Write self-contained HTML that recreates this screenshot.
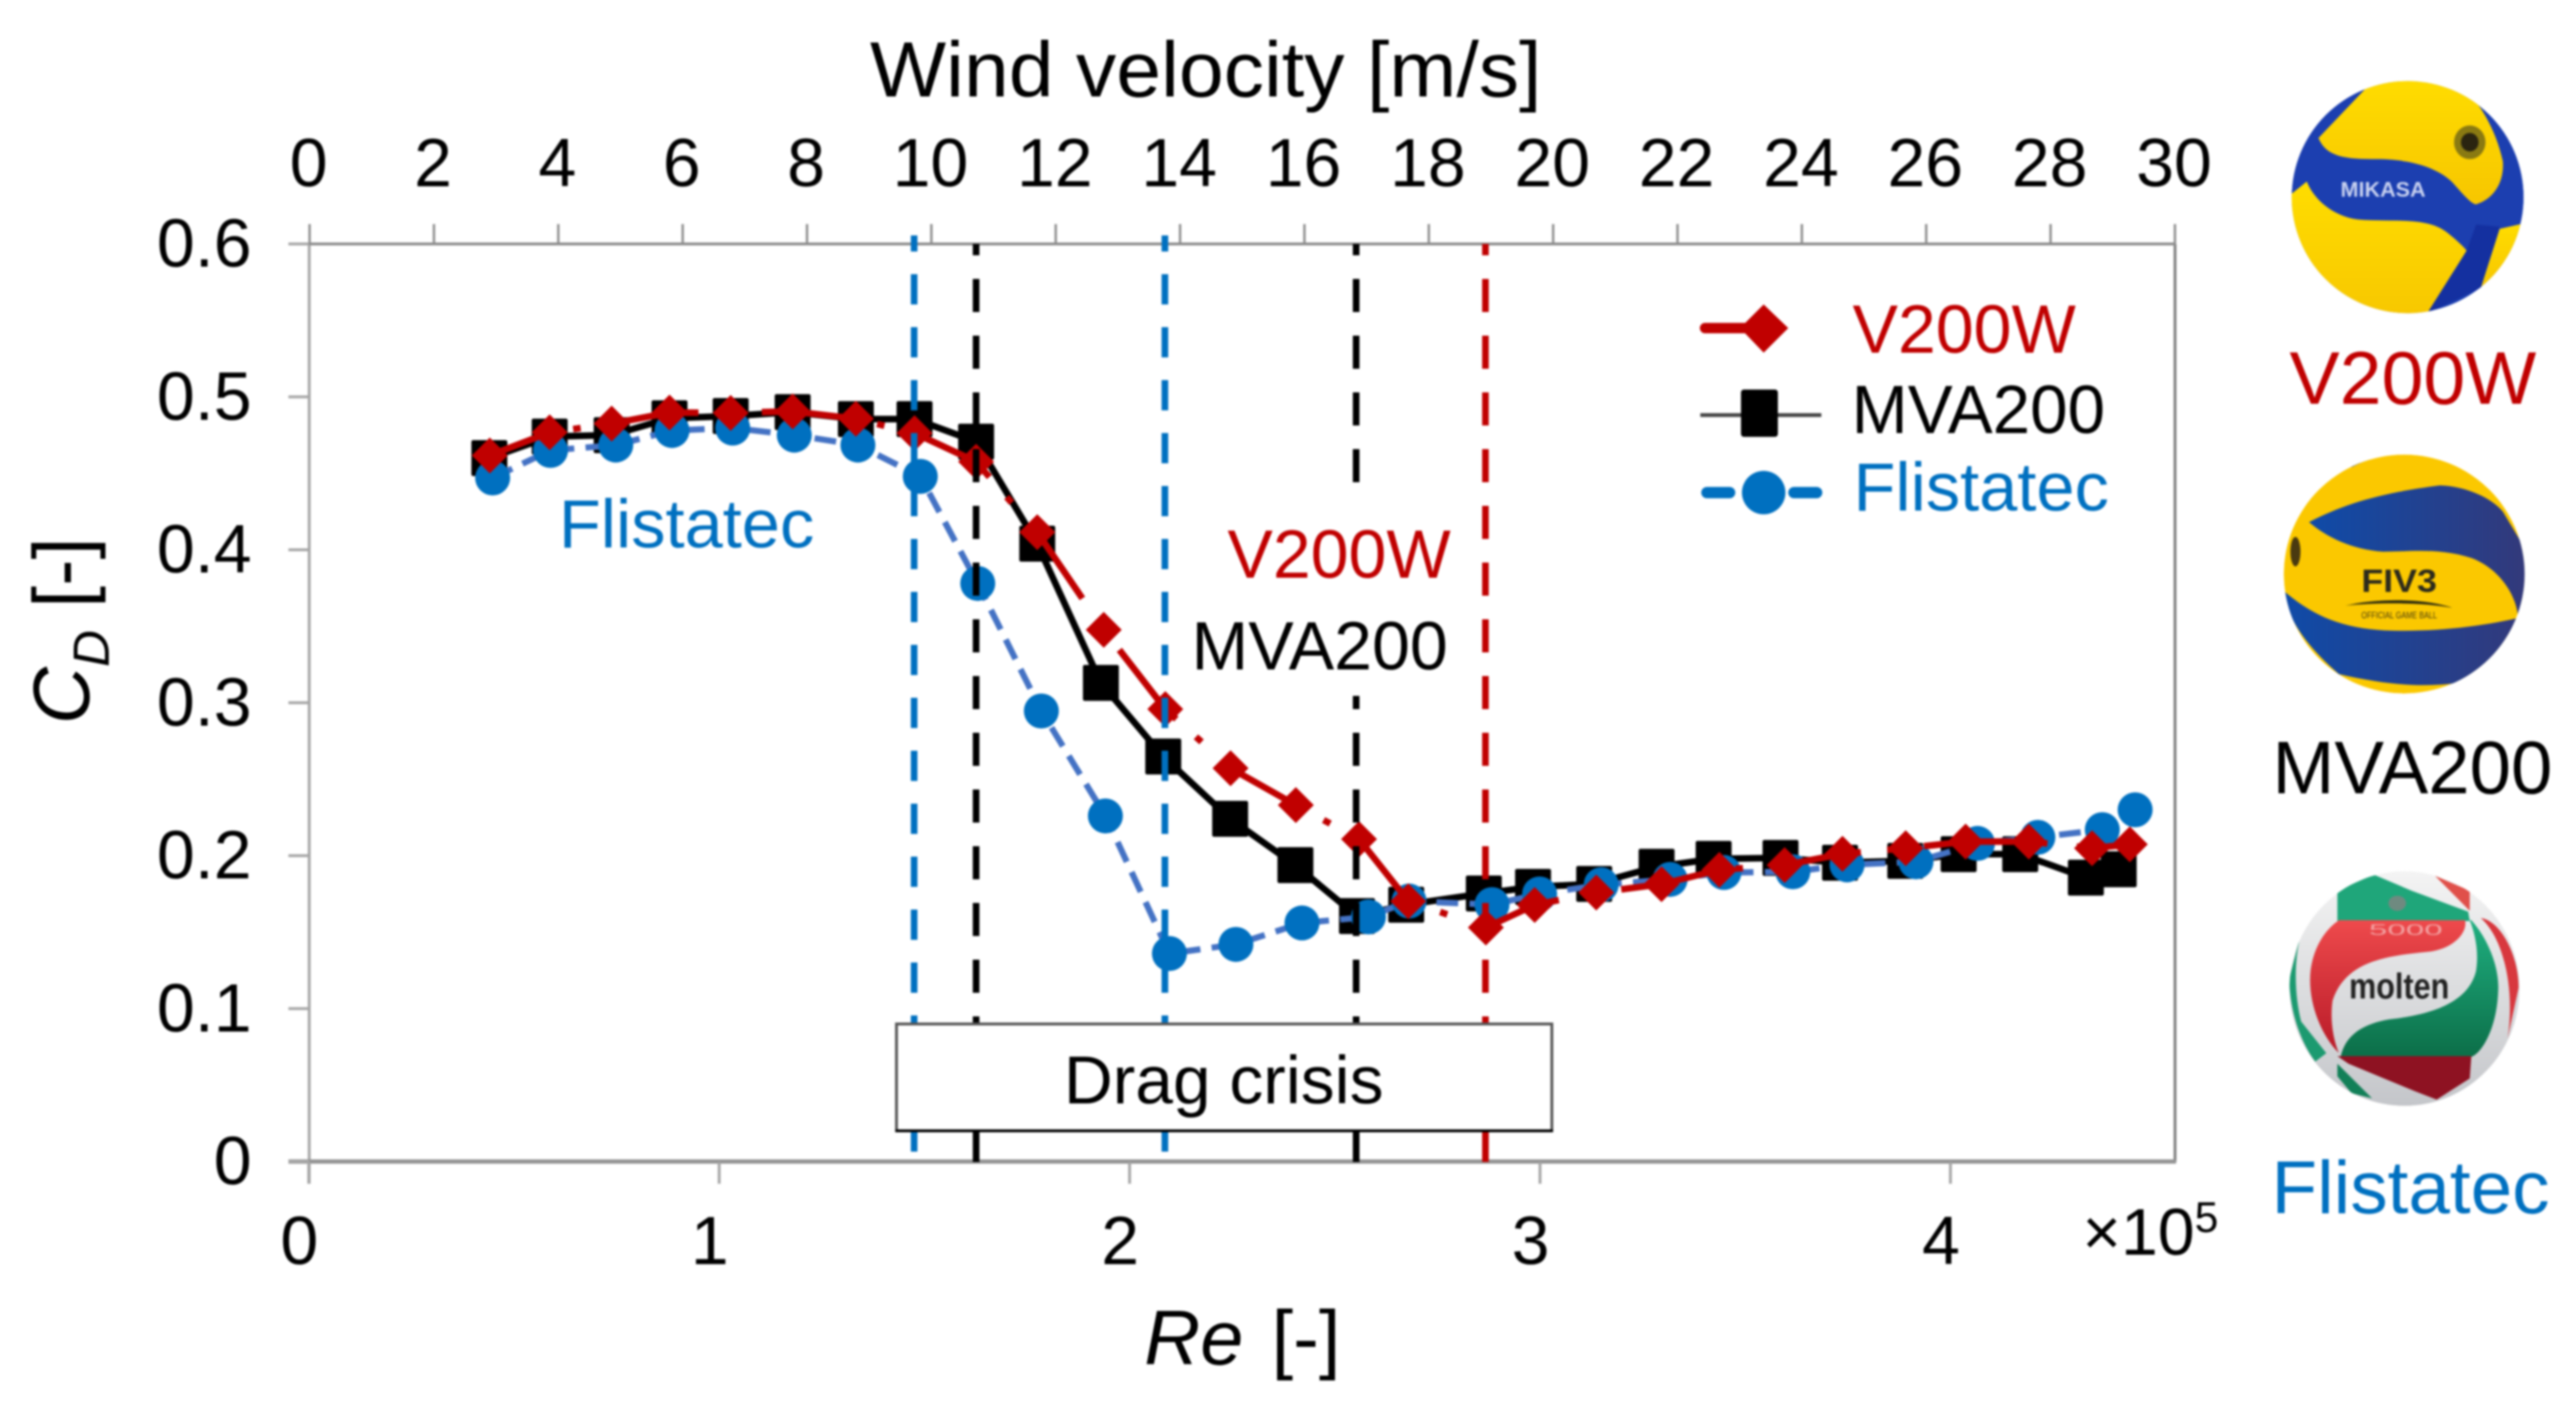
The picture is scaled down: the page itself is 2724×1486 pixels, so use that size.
<!DOCTYPE html>
<html lang="en">
<head>
<meta charset="utf-8">
<title>Drag coefficient vs Reynolds number for three volleyballs</title>
<style>
html,body{margin:0;padding:0;background:#fff;width:2724px;height:1486px;overflow:hidden}
svg{display:block;filter:blur(1px)}
text{font-family:"Liberation Sans",Arial,sans-serif}
</style>
</head>
<body>
<svg id="chart" xmlns="http://www.w3.org/2000/svg" width="2724" height="1486" viewBox="0 0 2724 1486">
  <defs>
    <clipPath id="clip-b1"><ellipse cx="498" cy="355" rx="368" ry="275"/></clipPath>
    <clipPath id="clip-b2"><ellipse cx="487" cy="1248" rx="382" ry="283"/></clipPath>
    <clipPath id="clip-b3"><ellipse cx="488" cy="662" rx="365" ry="278"/></clipPath>
    <linearGradient id="g-yellow" x1="0" y1="0" x2="0" y2="1"><stop offset="0" stop-color="#FFDD00"/><stop offset="1" stop-color="#F7C600"/></linearGradient>
    <linearGradient id="g-blue2" x1="0" y1="0" x2="1" y2="0"><stop offset="0" stop-color="#0F4BA8"/><stop offset="1" stop-color="#33397A"/></linearGradient>
    <linearGradient id="g-white" x1="0" y1="0" x2="0" y2="1"><stop offset="0" stop-color="#F4F4F4"/><stop offset="1" stop-color="#C4C6CA"/></linearGradient>
    <linearGradient id="g-green" x1="0" y1="0" x2="0" y2="1"><stop offset="0" stop-color="#1FAF80"/><stop offset="1" stop-color="#0C6E48"/></linearGradient>
    <linearGradient id="g-red" x1="0" y1="0" x2="0" y2="1"><stop offset="0" stop-color="#EE4A4C"/><stop offset="1" stop-color="#B81A28"/></linearGradient>
  </defs>

  <g id="axes"></g>
  <g id="series"></g>
  <g id="vlines"></g>

  <rect x="1265" y="535" width="275" height="201" fill="#fff"/>
  <text x="1298" y="611" font-size="72" fill="#C00000" textLength="236" lengthAdjust="spacingAndGlyphs">V200W</text>
  <text x="1260" y="708" font-size="72" fill="#000" textLength="271" lengthAdjust="spacingAndGlyphs">MVA200</text>
  <text x="591" y="579" font-size="72" fill="#0070C0" textLength="270" lengthAdjust="spacingAndGlyphs">Flistatec</text>

  <g>
    <rect x="948" y="1083" width="693" height="113" fill="#fff" stroke="#555" stroke-width="3"/>
    <line x1="947" y1="1196" x2="1642" y2="1196" stroke="#000" stroke-width="3"/>
    <text x="1294" y="1167" font-size="71" text-anchor="middle" fill="#000" textLength="338" lengthAdjust="spacingAndGlyphs">Drag crisis</text>
  </g>

  <g>
    <g>
      <line x1="1803" y1="347" x2="1865" y2="347" stroke="#C00000" stroke-width="11" stroke-linecap="round"/>
      <polygon points="1865,322 1891,347 1865,373 1840,347" fill="#C00000"/>
      <text x="1959" y="373" font-size="72" fill="#C00000" textLength="236" lengthAdjust="spacingAndGlyphs">V200W</text>
    </g>
    <g>
      <line x1="1798" y1="439" x2="1926" y2="439" stroke="#444" stroke-width="4"/>
      <rect x="1841" y="412" width="39" height="50" rx="3" fill="#000"/>
      <text x="1958" y="458" font-size="72" fill="#000" textLength="268" lengthAdjust="spacingAndGlyphs">MVA200</text>
    </g>
    <g>
      <line x1="1805" y1="521" x2="1829" y2="521" stroke="#0070C0" stroke-width="12" stroke-linecap="round"/>
      <line x1="1897" y1="521" x2="1921" y2="521" stroke="#0070C0" stroke-width="12" stroke-linecap="round"/>
      <ellipse cx="1865" cy="521" rx="23" ry="23" fill="#0070C0"/>
      <text x="1960" y="540" font-size="72" fill="#0070C0" textLength="270" lengthAdjust="spacingAndGlyphs">Flistatec</text>
    </g>
  </g>

  <text x="920" y="102" font-size="83" fill="#000" textLength="710" lengthAdjust="spacingAndGlyphs">Wind velocity [m/s]</text>
  <text x="1210" y="1443" font-size="82" fill="#000"><tspan font-style="italic">Re</tspan><tspan dx="7"> [-]</tspan></text>
  <text transform="translate(94,766) rotate(-90)" font-size="84" fill="#000"><tspan font-style="italic">C</tspan><tspan font-style="italic" font-size="54" dy="21">D</tspan><tspan dy="-21"> [-]</tspan></text>
  <text x="2202" y="1327" font-size="70" fill="#000">×10<tspan font-size="45" dy="-24">5</tspan></text>

  <!-- V200W ball -->
  <g transform="translate(2380,50) scale(0.33333,0.44643)">
    <g clip-path="url(#clip-b1)">
      <ellipse cx="498" cy="355" rx="368" ry="275" fill="#1C3FB0"/>
      <path d="M400,70 L215,215 C240,260 300,265 400,265 C520,265 600,290 640,320 C670,345 700,372 715,372 C770,360 805,320 800,270 C785,220 760,180 730,145 C680,90 560,60 400,70Z" fill="url(#g-yellow)"/>
      <path d="M178,318 C200,360 260,400 340,408 C450,415 560,400 625,440 C650,455 680,475 685,482 L560,640 L400,660 L100,520 L125,350Z" fill="url(#g-yellow)"/>
      <path d="M790,430 L730,570 L880,470 L880,415Z" fill="url(#g-yellow)"/>
      <path d="M560,630 L685,482 L715,420 L790,425 L730,570Z" fill="#1430A0"/>
      <ellipse cx="695" cy="225" rx="50" ry="40" fill="#8A7A12"/>
      <ellipse cx="695" cy="225" rx="28" ry="22" fill="#2A2410"/>
    </g>
  </g>
  <text x="2475" y="208" font-size="22" font-weight="bold" fill="#C9D2F0" textLength="90" lengthAdjust="spacingAndGlyphs">MIKASA</text>

  <!-- MVA200 ball -->
  <g transform="translate(2380,50) scale(0.33333,0.44643)">
    <g clip-path="url(#clip-b2)">
      <ellipse cx="487" cy="1248" rx="382" ry="283" fill="#FBC800"/>
      <path d="M320,995 C370,975 420,965 470,962 L470,940 L320,960Z" fill="#5A6A9A"/>
      <path d="M185,1125 C300,1080 420,1055 600,1038 C680,1040 760,1065 800,1100 L880,1200 L880,1360 L848,1352 C845,1300 790,1235 700,1210 C600,1185 500,1195 420,1195 C320,1190 240,1160 185,1125Z" fill="url(#g-blue2)"/>
      <path d="M100,1285 C200,1350 300,1380 450,1382 C600,1385 750,1370 860,1350 L880,1350 L840,1450 C760,1490 700,1505 600,1510 C500,1515 400,1505 280,1485 C180,1420 120,1360 100,1285Z" fill="url(#g-blue2)"/>
      <ellipse cx="142" cy="1195" rx="16" ry="35" fill="#4A3A10"/>
    </g>
    <path d="M300,1323 C400,1305 550,1305 640,1328 C550,1315 400,1315 300,1323Z" fill="#2A2A10"/>
  </g>
  <text x="2497" y="626" font-size="34" font-weight="bold" fill="#2C2A1C" textLength="80" lengthAdjust="spacingAndGlyphs">FIV3</text>
  <text x="2497" y="654" font-size="10" fill="#4A3F10" textLength="80" lengthAdjust="spacingAndGlyphs">OFFICIAL GAME BALL</text>

  <!-- Flistatec ball -->
  <g transform="translate(2380,750) scale(0.33333,0.44643)">
    <g clip-path="url(#clip-b3)">
      <ellipse cx="488" cy="662" rx="365" ry="278" fill="url(#g-white)"/>
      <polygon points="275,430 390,392 510,430 690,480 695,502 275,502" fill="#1FA67A"/>
      <path d="M280,500 L680,500 C690,530 640,570 560,575 C420,585 300,600 260,690 C250,740 265,790 280,815 C220,770 180,690 190,620 C200,560 240,520 280,500Z" fill="url(#g-red)"/>
      <path d="M700,500 C760,550 790,620 785,670 C780,760 730,820 695,825 L285,825 C300,770 360,745 440,735 C560,725 690,700 715,620 C725,570 710,530 695,500Z" fill="url(#g-green)"/>
      <path d="M275,822 L700,822 L695,875 L590,925 L520,905 L310,840Z" fill="#8E1222"/>
      <polygon points="585,395 695,430 695,478" fill="#E0504A"/>
      <path d="M730,495 C790,500 850,580 850,660 L815,780 C840,660 800,540 730,495Z" fill="#D8383E"/>
      <path d="M122,640 L160,530 C135,600 140,680 160,740 L240,815 L205,835 C160,790 125,720 122,640Z" fill="#1C9A70"/>
      <polygon points="275,840 385,922 320,910 275,870" fill="#128058"/>
      <ellipse cx="465" cy="460" rx="28" ry="18" fill="#6F8A80"/>
    </g>
  </g>
  <text x="2484" y="1056" font-size="38" font-weight="bold" fill="#222" textLength="106" lengthAdjust="spacingAndGlyphs">molten</text>
  <text x="2505" y="989" font-size="17" fill="#F2A0A0" textLength="78" lengthAdjust="spacingAndGlyphs">5000</text>

  <text x="2421" y="427" font-size="79" fill="#C00000" textLength="261" lengthAdjust="spacingAndGlyphs">V200W</text>
  <text x="2403" y="839" font-size="79" fill="#000" textLength="296" lengthAdjust="spacingAndGlyphs">MVA200</text>
  <text x="2402" y="1283" font-size="79" fill="#0070C0" textLength="294" lengthAdjust="spacingAndGlyphs">Flistatec</text>
</svg>

<script>
// Chart data
const yTickValues = [0, 0.1, 0.2, 0.3, 0.4, 0.5, 0.6];
const yTickLabels = ['0', '0.1', '0.2', '0.3', '0.4', '0.5', '0.6'];
const reTickValues = [0, 1, 2, 3, 4];
const velocityTickValues = [0, 2, 4, 6, 8, 10, 12, 14, 16, 18, 20, 22, 24, 26, 28, 30];

const mvaRe = [0.44, 0.587, 0.738, 0.879, 1.028, 1.179, 1.333, 1.476, 1.626, 1.775, 1.930, 2.082, 2.245, 2.404, 2.554, 2.674, 2.863, 2.983, 3.132, 3.284, 3.423, 3.586, 3.731, 3.890, 4.020, 4.170, 4.330, 4.410];
const mvaCd = [0.460, 0.474, 0.475, 0.486, 0.4875, 0.490, 0.4855, 0.4855, 0.4707, 0.404, 0.313, 0.2648, 0.2241, 0.1938, 0.1605, 0.1679, 0.1753, 0.1796, 0.1815, 0.1927, 0.1979, 0.1985, 0.1954, 0.1966, 0.2010, 0.2010, 0.1856, 0.1911];

const flistatecRe = [0.448, 0.589, 0.748, 0.885, 1.033, 1.183, 1.338, 1.490, 1.630, 1.785, 1.941, 2.097, 2.259, 2.420, 2.582, 2.681, 2.883, 2.999, 3.149, 3.317, 3.448, 3.616, 3.748, 3.916, 4.066, 4.213, 4.370, 4.450];
const flistatecCd = [0.447, 0.465, 0.4685, 0.478, 0.4796, 0.475, 0.4685, 0.448, 0.378, 0.2946, 0.226, 0.136, 0.142, 0.156, 0.160, 0.1703, 0.168, 0.175, 0.181, 0.1845, 0.189, 0.1895, 0.194, 0.196, 0.208, 0.212, 0.217, 0.230];

const v200wRe = [0.441, 0.587, 0.738, 0.879, 1.028, 1.179, 1.333, 1.476, 1.626, 1.775, 1.937, 2.087, 2.246, 2.405, 2.559, 2.679, 2.868, 2.987, 3.137, 3.296, 3.437, 3.596, 3.737, 3.891, 4.037, 4.191, 4.345, 4.437];
const v200wCd = [0.4617, 0.4768, 0.4825, 0.4897, 0.4895, 0.4905, 0.4857, 0.4763, 0.4576, 0.4115, 0.3477, 0.2958, 0.2572, 0.2331, 0.2108, 0.1702, 0.1530, 0.1678, 0.1759, 0.1814, 0.1907, 0.1938, 0.2012, 0.2049, 0.2092, 0.2092, 0.2049, 0.2074];

const transitionRe = [1.475, 1.626, 2.086, 2.552, 2.867];

// Axis functions
function xRe(v) { return 326.5 + 434 * v; }
function xVelocity(v) { return 327.4 + 65.75 * v; }
function yCd(v) { return 1228.5 - 1617.5 * v; }

const NS = 'http://www.w3.org/2000/svg';
function svgEl(tag, attrs, parent) {
  const e = document.createElementNS(NS, tag);
  for (const k in attrs) e.setAttribute(k, attrs[k]);
  parent.appendChild(e);
  return e;
}

const axes = document.getElementById('axes');
const seriesG = document.getElementById('series');
const vlinesG = document.getElementById('vlines');

// Spines
const leftSpine = svgEl('line', {x1: 327, y1: 258, x2: 327, y2: 1252, stroke: '#A6A6A6', 'stroke-width': 3}, axes);


const rightSpine = svgEl('line', {x1: 2300, y1: 258, x2: 2300, y2: 1229, stroke: '#808080', 'stroke-width': 3}, axes);


const topSpine = svgEl('line', {x1: 305, y1: 258, x2: 2301, y2: 258, stroke: '#8C8C8C', 'stroke-width': 3}, axes);


const bottomSpine = svgEl('line', {x1: 305, y1: 1228.5, x2: 2301, y2: 1228.5, stroke: '#939393', 'stroke-width': 4.5}, axes);



// Y ticks and labels
yTickValues.forEach(function (v, i) {
  const t = svgEl('line', {x1: 305, y1: yCd(v), x2: 327, y2: yCd(v), stroke: '#A6A6A6', 'stroke-width': 3}, axes);
  
  
  const l = svgEl('text', {x: 266, y: yCd(v) + 24, 'font-size': 72, 'text-anchor': 'end', fill: '#000'}, axes);
  
  
  l.textContent = yTickLabels[i];
});

// Bottom ticks and labels
reTickValues.forEach(function (v) {
  const t = svgEl('line', {x1: xRe(v), y1: 1229, x2: xRe(v), y2: 1252, stroke: '#A6A6A6', 'stroke-width': 3}, axes);
  
  
  const l = svgEl('text', {x: xRe(v) - 10, y: 1337, 'font-size': 72, 'text-anchor': 'middle', fill: '#000'}, axes);
  
  
  l.textContent = String(v);
});

// Top ticks and labels
velocityTickValues.forEach(function (v) {
  const t = svgEl('line', {x1: xVelocity(v), y1: 237, x2: xVelocity(v), y2: 258, stroke: '#8C8C8C', 'stroke-width': 2.5}, axes);
  
  
  const l = svgEl('text', {x: xVelocity(v) - 1, y: 197, 'font-size': 72, 'text-anchor': 'middle', fill: '#000'}, axes);
  
  
  l.textContent = String(v);
});

function linePoints(xs, ys) {
  return xs.map(function (x, i) { return xRe(x).toFixed(1) + ',' + yCd(ys[i]).toFixed(1); }).join(' ');
}

// MVA200
const mvaLine = svgEl('polyline', {points: linePoints(mvaRe, mvaCd), fill: 'none', stroke: '#000', 'stroke-width': 7, 'stroke-linejoin': 'round'}, seriesG);


mvaRe.forEach(function (x, i) {
  const m = svgEl('rect', {x: xRe(x) - 19, y: yCd(mvaCd[i]) - 19, width: 38, height: 38, rx: 2, fill: '#000'}, seriesG);
  
  
});

// Flistatec
const fliLine = svgEl('polyline', {points: linePoints(flistatecRe, flistatecCd), fill: 'none', stroke: '#4472C4', 'stroke-width': 6.5, 'stroke-dasharray': '23 12'}, seriesG);


flistatecRe.forEach(function (x, i) {
  const m = svgEl('circle', {cx: xRe(x), cy: yCd(flistatecCd[i]), r: 18.5, fill: '#0070C0'}, seriesG);
  
  
});

// V200W
const v200Line = svgEl('polyline', {points: linePoints(v200wRe, v200wCd), fill: 'none', stroke: '#C00000', 'stroke-width': 7, 'stroke-dasharray': '95 28 8 31', 'stroke-dashoffset': 30}, seriesG);


v200wRe.forEach(function (x, i) {
  const cx = xRe(x);
  const cy = yCd(v200wCd[i]);
  const m = svgEl('polygon', {points: `${cx},${cy - 19} ${cx + 19},${cy} ${cx},${cy + 19} ${cx - 19},${cy}`, fill: '#C00000'}, seriesG);
  
  
});

// Vertical transition lines, one colour per ball
const transitionColors = ['#0070C0', '#000', '#0070C0', '#000', '#C00000'];
const transitionStyle = [
  {top: 249, dash: '32 24', offset: 15},
  {top: 258, dash: '35 25', offset: 23},
  {top: 249, dash: '32 24', offset: 15},
  {top: 258, dash: '35 25', offset: 23},
  {top: 258, dash: '35 25', offset: 23}
];
transitionRe.forEach(function (v, i) {
  const s = transitionStyle[i];
  const l = svgEl('line', {x1: xRe(v), y1: s.top, x2: xRe(v), y2: 1229, stroke: transitionColors[i], 'stroke-width': 7, 'stroke-dasharray': s.dash, 'stroke-dashoffset': s.offset}, vlinesG);
  
  
});
</script>
</body>
</html>
